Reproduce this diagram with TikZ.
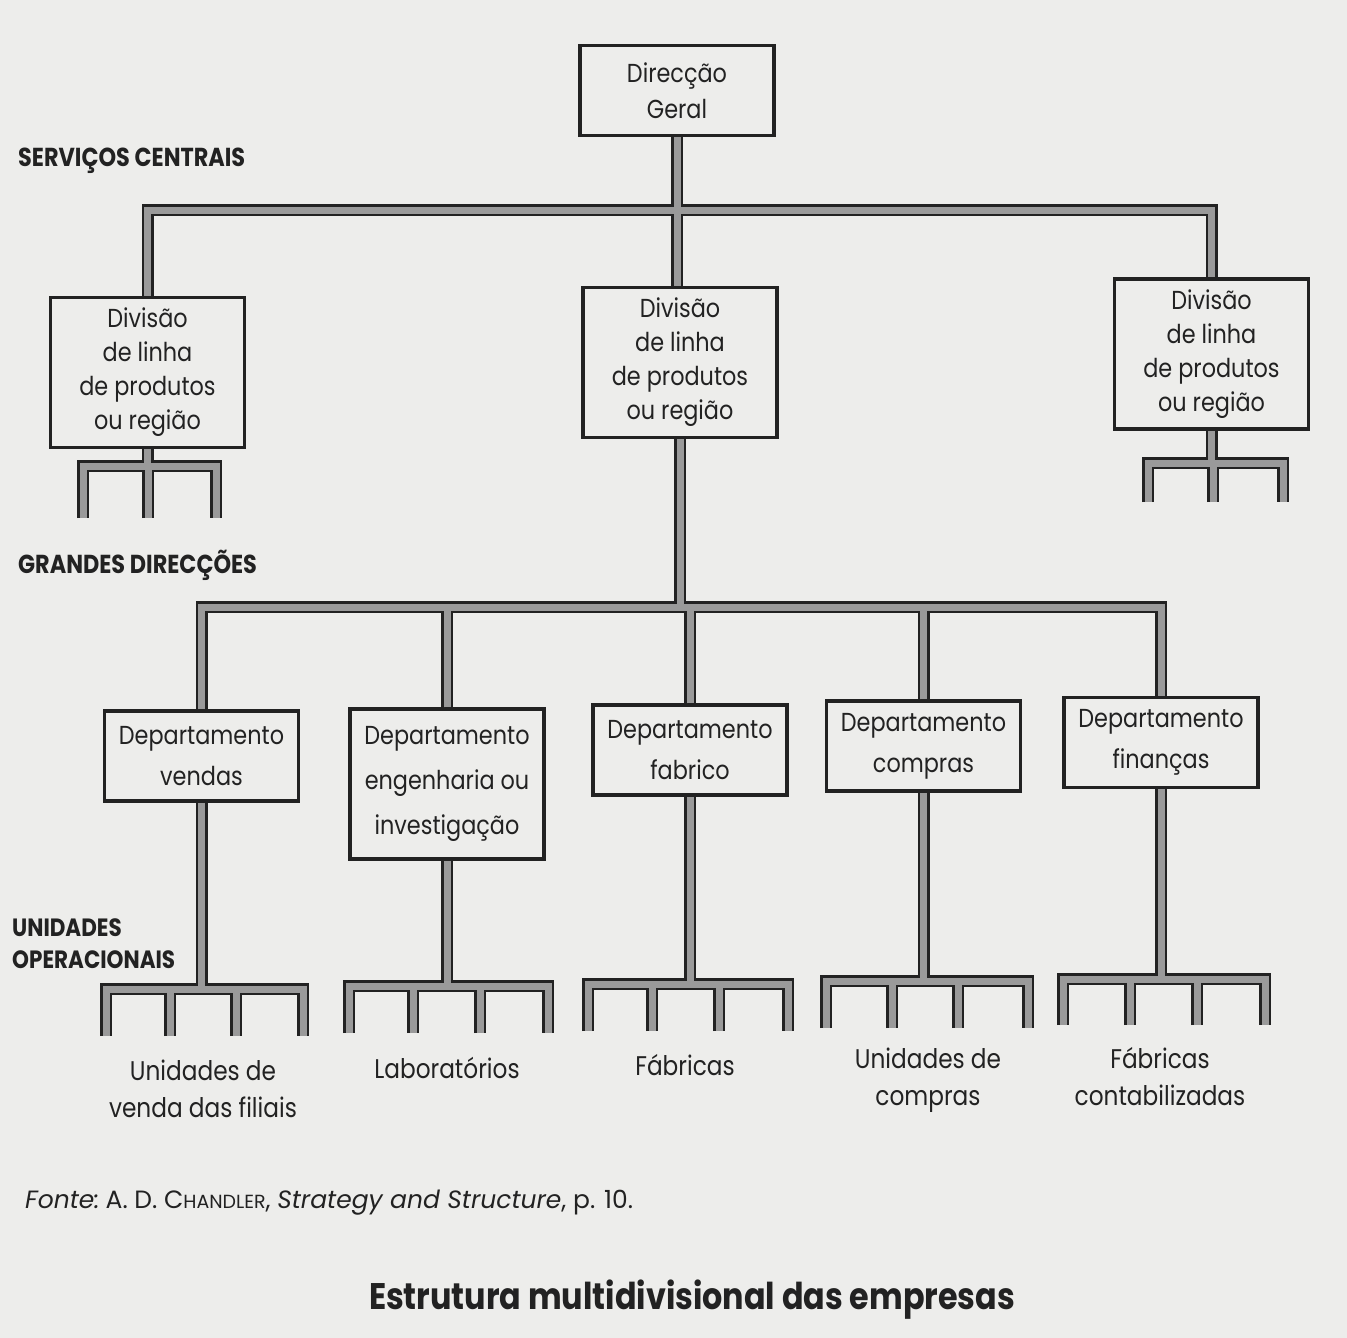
\documentclass[tikz,border=0pt]{standalone}
\usepackage{fontspec}
\setmainfont{Poppins}
\newfontfamily\boxfont[FakeStretch=0.86]{Poppins}
\newfontfamily\srcfont{Poppins}
\newfontfamily\headfont[FakeStretch=0.86]{Poppins}
\definecolor{paper}{HTML}{EDEDEB}
\definecolor{ink}{HTML}{222222}
\definecolor{bargray}{HTML}{9A9A9A}
\tikzset{
  orgbox/.style={draw=ink, line width=3.5pt, fill=paper, align=center, text=ink, inner sep=0pt},
  small/.style={orgbox, minimum width=194pt, minimum height=90pt},
  tall/.style={orgbox, minimum width=194pt, minimum height=150pt},
  outerbar/.style={draw=ink, line width=12pt, line join=miter, line cap=butt},
  innerbar/.style={draw=bargray, line width=7pt, line join=miter, line cap=butt},
  headlabel/.style={anchor=west, text=ink, font=\headfont\bfseries\fontsize{26}{32}\selectfont, align=left, inner sep=0pt},
  bottomlabel/.style={text=ink, font=\boxfont\fontsize{27}{37}\selectfont, align=center, inner sep=0pt},
}
\newcommand\allbars[1]{%
  \draw[#1] (dg.south) -- (dg.south |- d2.north);
  \draw[#1] (d1.north) -- (d1.north |- hbA) -- (d3.north |- hbA) -- (d3.north);
  \draw[#1] (d2.south) -- (d2.south |- hbB);
  \draw[#1] (v.north) -- (v.north |- hbB) -- (fi.north |- hbB) -- (fi.north);
  \foreach \n in {e,f,c} \draw[#1] (\n.north) -- (\n.north |- hbB);
  % forks of divisions
  \draw[#1] (d1.south) -- (d1.south |- aY);
  \draw[#1] (a1) -- (a1 |- aY) -- (a3 |- aY) -- (a3);
  \draw[#1] (a2) -- (a2 |- aY);
  \draw[#1] (d3.south) -- (d3.south |- bY);
  \draw[#1] (b1) -- (b1 |- bY) -- (b3 |- bY) -- (b3);
  \draw[#1] (b2) -- (b2 |- bY);
  % forks of departments
  \foreach \bx/\p in {v/c, e/e, f/g, c/h, fi/k}{
    \draw[#1] (\bx.south) -- (\bx.south |- \p Y);
    \draw[#1] (\p1) -- (\p1 |- \p Y) -- (\p4 |- \p Y) -- (\p4);
    \draw[#1] (\p2) -- (\p2 |- \p Y);
    \draw[#1] (\p3) -- (\p3 |- \p Y);
  }
}
\begin{document}
\begin{tikzpicture}[x=1pt,y=-1pt]
\fill[paper] (0,0) rectangle (1347,1338);
\useasboundingbox (0,0) rectangle (1347,1338);

% boxes
\node[small, font=\boxfont\fontsize{26}{36}\selectfont] (dg) at (677,90.5) {Direcção\\Geral};
\node[tall, font=\boxfont\fontsize{26}{34}\selectfont] (d1) at (147.5,372.5) {Divisão\\de linha\\de produtos\\ou região};
\node[tall, font=\boxfont\fontsize{26}{34}\selectfont] (d2) at (680,362.5) {Divisão\\de linha\\de produtos\\ou região};
\node[tall, font=\boxfont\fontsize{26}{34}\selectfont] (d3) at (1211.5,354) {Divisão\\de linha\\de produtos\\ou região};
\node[small, font=\boxfont\fontsize{26}{41}\selectfont] (v) at (201.5,756) {Departamento\\vendas};
\node[tall, font=\boxfont\fontsize{26}{45}\selectfont] (e) at (447,784) {Departamento\\engenharia ou\\investigação};
\node[small, font=\boxfont\fontsize{26}{41}\selectfont] (f) at (690,750) {Departamento\\fabrico};
\node[small, font=\boxfont\fontsize{26}{41}\selectfont] (c) at (923.5,746) {Departamento\\compras};
\node[small, font=\boxfont\fontsize{26}{41}\selectfont] (fi) at (1161,742.5) {Departamento\\finanças};

% helper coordinates
\coordinate (hbA) at (0,210);
\coordinate (hbB) at (0,607);
\coordinate (aY) at (0,466);
\coordinate (a1) at (83,518); \coordinate (a2) at (148,518); \coordinate (a3) at (216,518);
\coordinate (bY) at (0,463);
\coordinate (b1) at (1148,502); \coordinate (b2) at (1213,502); \coordinate (b3) at (1283,502);
\coordinate (cY) at (0,989);
\coordinate (c1) at (106,1036); \coordinate (c2) at (170,1036); \coordinate (c3) at (236,1036); \coordinate (c4) at (303,1036);
\coordinate (eY) at (0,986);
\coordinate (e1) at (349,1033); \coordinate (e2) at (413,1033); \coordinate (e3) at (480,1033); \coordinate (e4) at (548,1033);
\coordinate (gY) at (0,984);
\coordinate (g1) at (588,1031); \coordinate (g2) at (652,1031); \coordinate (g3) at (719,1031); \coordinate (g4) at (788,1031);
\coordinate (hY) at (0,981);
\coordinate (h1) at (826,1028); \coordinate (h2) at (892,1028); \coordinate (h3) at (958,1028); \coordinate (h4) at (1028,1028);
\coordinate (kY) at (0,979);
\coordinate (k1) at (1063,1025); \coordinate (k2) at (1130,1025); \coordinate (k3) at (1197,1025); \coordinate (k4) at (1265,1025);

% connectors: outlines first, then fills
\allbars{outerbar}
\allbars{innerbar}

% level labels
\node[headlabel] (sc) at (18,161) {SERVIÇOS CENTRAIS};
\node[headlabel] (gd) at (18,565) {GRANDES DIRECÇÕES};
\node[headlabel, font=\headfont\bfseries\fontsize{25}{32}\selectfont] (uo) at (12,944) {UNIDADES\\OPERACIONAIS};

% bottom labels
\node[bottomlabel] (lv) at (203,1089) {Unidades de\\venda das filiais};
\node[bottomlabel] (ll) at (447,1068) {Laboratórios};
\node[bottomlabel] (lf) at (685,1065) {Fábricas};
\node[bottomlabel] (lc) at (928,1080) {Unidades de\\compras};
\node[bottomlabel] (lk) at (1160,1077) {Fábricas\\contabilizadas};

% source and title
\node[anchor=west, text=ink, inner sep=0pt, font=\srcfont\fontsize{25}{30}\selectfont] (src) at (25,1203)
  {\textit{Fonte:}\hspace{6pt}A. D. C{\fontsize{19}{22}\selectfont HANDLER}, \textit{Strategy and Structure}, p. 10.};
\node[text=ink, inner sep=0pt, font=\headfont\bfseries\fontsize{37}{44}\selectfont] (title) at (692,1300)
  {Estrutura multidivisional das empresas};
\end{tikzpicture}
\end{document}
